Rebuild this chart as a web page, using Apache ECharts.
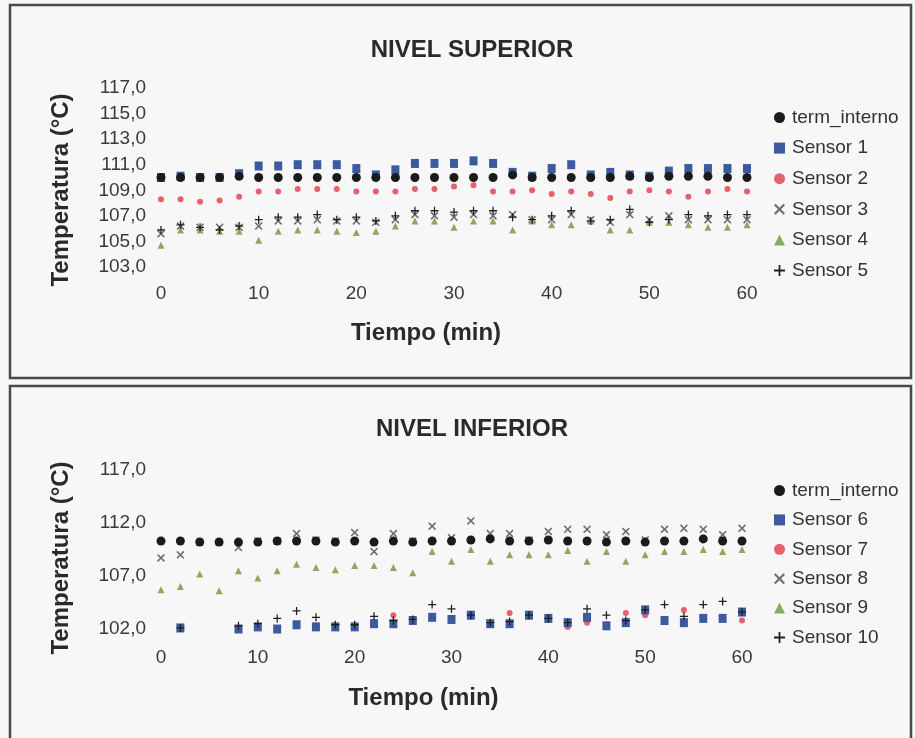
<!DOCTYPE html>
<html>
<head>
<meta charset="utf-8">
<script src="https://cdn.jsdelivr.net/npm/echarts@6/dist/echarts.min.js"></script>
<style>
html,body{margin:0;padding:0;background:#f6f7f6;}
#c{width:915px;height:738px;}
</style>
</head>
<body>
<div id="c"></div>
<script>
// ---- data ----
const times = [0,2,4,6,8,10,12,14,16,18,20,22,24,26,28,30,32,34,36,38,40,42,44,46,48,50,52,54,56,58,60];
const xTicks = [0,10,20,30,40,50,60];
const topYTicks = [103,105,107,109,111,113,115,117];
const bottomYTicks = [102,107,112,117];

const topTitle = 'NIVEL SUPERIOR';
const bottomTitle = 'NIVEL INFERIOR';
const topNames = ['term_interno','Sensor 1','Sensor 2','Sensor 3','Sensor 4','Sensor 5'];
const bottomNames = ['term_interno','Sensor 6','Sensor 7','Sensor 8','Sensor 9','Sensor 10'];

// NIVEL SUPERIOR
const supTerm = [110.0,110.0,110.0,110.0,110.1,110.0,110.0,110.0,110.0,110.0,110.0,110.0,110.0,110.0,110.0,110.0,110.0,110.0,110.2,110.0,110.0,110.0,110.0,110.0,110.1,110.0,110.1,110.1,110.1,110.0,110.0];
const sensor1 = [110.0,110.1,110.0,110.0,110.3,110.9,110.9,111.0,111.0,111.0,110.7,110.2,110.6,111.1,111.1,111.1,111.3,111.1,110.4,110.1,110.7,111.0,110.2,110.4,110.2,110.1,110.5,110.7,110.7,110.7,110.7];
const sensor2 = [108.3,108.3,108.1,108.2,108.5,108.9,108.9,109.1,109.1,109.1,108.9,108.9,108.9,109.1,109.1,109.3,109.4,108.9,108.9,109.0,108.7,108.9,108.7,108.4,108.9,109.0,108.9,108.5,108.9,109.1,108.9];
const sensor3 = [105.6,106.2,106.1,106.1,106.1,106.2,106.6,106.6,106.7,106.6,106.6,106.5,106.7,107.1,107.0,106.9,107.1,107.0,107.1,106.7,106.7,107.1,106.7,106.5,107.1,106.7,107.0,106.7,106.7,106.7,106.7];
const sensor4 = [104.7,105.9,105.9,105.8,105.8,105.1,105.8,105.9,105.9,105.8,105.7,105.8,106.2,106.6,106.6,106.1,106.6,106.6,105.9,106.6,106.3,106.3,106.6,105.9,105.9,106.5,106.5,106.3,106.1,106.1,106.3];
const sensor5 = [105.9,106.3,106.1,105.9,106.2,106.7,106.9,106.9,107.1,106.7,106.9,106.6,107.0,107.4,107.4,107.3,107.4,107.4,106.9,106.7,107.0,107.4,106.6,106.7,107.5,106.5,106.7,107.1,107.0,107.1,107.1];

// NIVEL INFERIOR
const infTerm = [110.3,110.3,110.2,110.2,110.2,110.2,110.3,110.3,110.3,110.2,110.3,110.2,110.3,110.2,110.3,110.3,110.4,110.5,110.3,110.3,110.4,110.3,110.3,110.2,110.3,110.2,110.3,110.3,110.5,110.3,110.3];
const sensor6 = [null,102.1,101.9,null,102.0,102.2,102.0,102.4,102.2,102.2,102.2,102.5,102.5,102.8,103.1,102.9,103.3,102.5,102.5,103.3,103.0,102.6,103.1,102.3,102.6,103.8,102.8,102.6,103.0,103.0,103.6];
const sensor7 = [null,102.1,101.9,null,102.0,102.2,102.0,102.4,102.2,102.2,102.2,102.5,103.3,102.8,103.1,102.9,103.3,102.5,103.5,103.3,103.0,102.2,102.6,102.3,103.5,103.3,102.8,103.8,103.0,103.0,102.8];
const sensor8 = [108.7,109.0,110.2,110.2,109.7,110.3,110.3,111.0,110.4,110.3,111.1,109.3,111.0,110.3,111.7,110.6,112.2,111.0,111.0,110.4,111.2,111.4,111.4,110.9,111.2,110.4,111.4,111.5,111.4,110.9,111.5];
const sensor9 = [105.7,106.0,107.2,105.6,107.5,106.8,107.5,108.1,107.8,107.6,108.0,108.0,107.8,107.3,109.3,108.4,109.5,108.4,109.0,109.0,109.0,109.4,108.4,109.3,108.4,109.0,109.3,109.3,109.5,109.3,109.5];
const sensor10 = [null,102.1,101.9,null,102.3,102.5,103.0,103.7,103.1,102.4,102.4,103.2,102.8,102.9,104.3,103.9,103.3,102.6,102.7,103.3,103.0,102.6,103.9,103.3,102.8,103.8,104.3,103.2,104.3,104.6,103.6];

// ---- styling ----
const FONT = '"Liberation Sans", Arial, sans-serif';
const crossPath = 'path://M4.2,0H5.8V4.2H10V5.8H5.8V10H4.2V5.8H0V4.2H4.2Z';
const xPath = 'path://M0,1.4L1.4,0L5,3.6L8.6,0L10,1.4L6.4,5L10,8.6L8.6,10L5,6.4L1.4,10L0,8.6L3.6,5Z';
const styles = [
  {symbol:'circle', size:9, color:'#1b1b1b', z:7},
  {symbol:'rect', size:[8,9], color:'#3c5aa0', z:4},
  {symbol:'circle', size:6, color:'#e8606c', z:2},
  {symbol:xPath, size:8, color:'#6e6e6e', z:5},
  {symbol:'triangle', size:7, color:'#8aab5c', z:5},
  {symbol:crossPath, size:8, color:'#1e1e1e', z:6}
];

function pairs(vals){ return times.map((t,i)=>[t, vals[i]]); }
function fmt(v){ return v.toFixed(1).replace('.', ','); }

const topData = [supTerm, sensor1, sensor2, sensor3, sensor4, sensor5];
const botData = [infTerm, sensor6, sensor7, sensor8, sensor9, sensor10];

const series = [];
topData.forEach((d,i)=>{
  const s = styles[i];
  series.push({type:'scatter', name: topNames[i], xAxisIndex:0, yAxisIndex:0, data: pairs(d),
    symbol: s.symbol, symbolSize: s.size, itemStyle:{color:s.color, opacity:1}, z: s.z, silent:true});
});
botData.forEach((d,i)=>{
  const s = styles[i];
  series.push({type:'scatter', name: bottomNames[i] + (i===0 ? '\u200b' : ''), xAxisIndex:1, yAxisIndex:1, data: pairs(d),
    symbol: s.symbol, symbolSize: s.size, itemStyle:{color:s.color, opacity:1}, z: s.z, silent:true});
});

function legendFor(names, top, gap, suffixFirst){
  return {
    orient:'vertical', left:769, top: top, itemGap: gap, itemWidth: 11, itemHeight: 11,
    selectedMode:false,
    textStyle:{fontFamily:FONT, fontSize:19, color:'#333', padding:[0,0,0,2]},
    data: names.map((n,i)=>({name: (suffixFirst && i===0) ? n + '\u200b' : n, icon: styles[i].symbol, itemStyle:{color:styles[i].color}})),
    formatter: n => n.replace('\u200b','')
  };
}

function xAxis(gi, margin, gap){
  return {type:'value', gridIndex:gi, min:0, max:60, interval:10,
    axisLine:{show:false}, axisTick:{show:false}, splitLine:{show:false},
    axisLabel:{customValues: xTicks, fontFamily:FONT, fontSize:19, color:'#3a3a3a', margin:margin, formatter: v => String(v)},
    name:'Tiempo (min)', nameLocation:'middle', nameGap: gap,
    nameTextStyle:{fontFamily:FONT, fontSize:24, fontWeight:'bold', color:'#2a2a2a', padding:[0,56,0,0]}
  };
}
function yAxis(gi, min, max, ticks, nameShift){
  return {type:'value', gridIndex:gi, min:min, max:max,
    axisLine:{show:false}, axisTick:{show:false}, splitLine:{show:false},
    axisLabel:{customValues: ticks, fontFamily:FONT, fontSize:19, color:'#3a3a3a', margin:15, formatter: v => fmt(v)},
    name:'Temperatura (°C)', nameLocation:'middle', nameGap: 88,
    nameTextStyle:{fontFamily:FONT, fontSize:24, fontWeight:'bold', color:'#2a2a2a', padding:[0,nameShift,0,0]}
  };
}

const chart = echarts.init(document.getElementById('c'), null, {renderer:'canvas'});
chart.setOption({
  backgroundColor:'#f6f7f6',
  animation:false,
  title:[
    {text: topTitle, left:467, top:33, textAlign:'center', textStyle:{fontFamily:FONT, fontSize:24, fontWeight:'bold', color:'#2a2a2a'}},
    {text: bottomTitle, left:467, top:412, textAlign:'center', textStyle:{fontFamily:FONT, fontSize:24, fontWeight:'bold', color:'#2a2a2a'}}
  ],
  legend:[ legendFor(topNames, 103, 11.6, false), legendFor(bottomNames, 476, 10.4, true) ],
  grid:[
    {left:161, right:168, top:88, height:179},
    {left:161, right:173, top:470, height:159}
  ],
  xAxis:[xAxis(0, 17, 54), xAxis(1, 19, 57)],
  yAxis:[yAxis(0,103,117,topYTicks,25), yAxis(1,102,117,bottomYTicks,17)],
  graphic:[
    {type:'rect', shape:{x:10, y:5, width:901, height:373}, style:{fill:'none', stroke:'#4a4a4a', lineWidth:2.5}, silent:true},
    {type:'rect', shape:{x:10, y:386, width:901, height:360}, style:{fill:'none', stroke:'#4a4a4a', lineWidth:2.5}, silent:true}
  ],
  series: series
});
</script>
</body>
</html>
